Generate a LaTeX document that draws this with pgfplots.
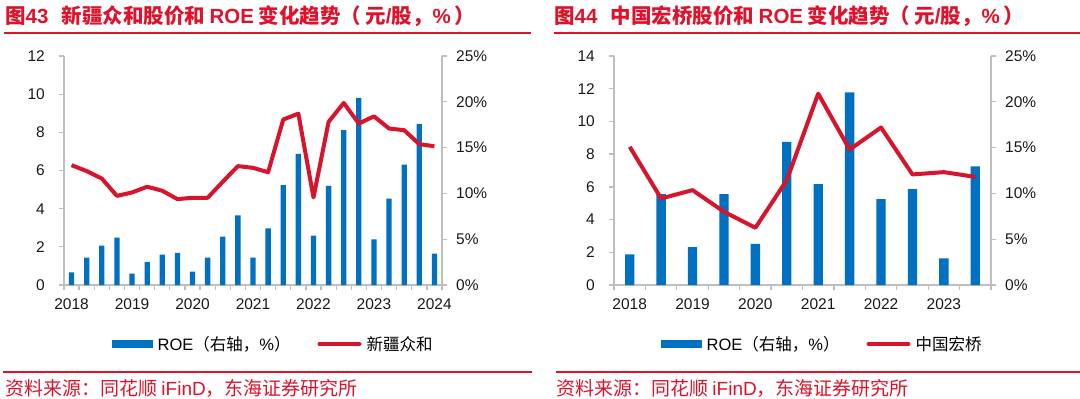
\documentclass[border=0pt]{standalone}
\usepackage{pgfplots}
\pgfplotsset{compat=1.18}
\usepackage{fontspec}
\setmainfont{Liberation Sans}
\newfontfamily\cjk{Noto Sans CJK SC}
\definecolor{roeblue}{HTML}{0070C0}
\definecolor{linered}{HTML}{D7142C}
\definecolor{hdrred}{HTML}{E0122B}
\definecolor{axgray}{HTML}{BFBFBF}
\pgfplotsset{
  basestyle/.style={
    scale only axis,
    width=378pt, height=229pt,
    axis line style={-, axgray, line width=1.3pt},
    tick style={axgray, line width=1.3pt},
    tick align=outside,
    major tick length=5pt,
    ymin=0,
    /pgf/number format/assume math mode=true,
    tick label style={font=\fontsize{15.5}{16}\selectfont, text=black!90},
    clip=false,
  },
  legstyle/.style={
    legend style={draw=none, fill=none, legend columns=2,
      font=\fontsize{16.5}{17}\selectfont, inner sep=0pt,
      nodes={inner sep=5pt},
      /tikz/every even column/.append style={column sep=22pt}},
  },
}
\begin{document}
\begin{tikzpicture}
\useasboundingbox (0pt,0pt) rectangle (1080pt,-399pt);
% ---------- Left panel ----------
\node[anchor=west, text=hdrred, font=\fontsize{20.5}{21}\selectfont\bfseries, inner sep=0pt] at (5pt,-16pt)
  {\cjk 图{\rmfamily 43}\hspace{13pt}新疆众和股价和 {\rmfamily ROE} 变化趋势（\hspace{4pt}元{\rmfamily /}股，{\rmfamily \%}\hspace{4pt}）};
\draw[hdrred, line width=2pt] (4pt,-33pt) -- (531pt,-33pt);
\draw[hdrred, line width=1.6pt] (3pt,-372pt) -- (532pt,-372pt);
\node[anchor=west, text=hdrred, font=\fontsize{19}{19}\selectfont, inner sep=0pt] at (5pt,-388pt)
  {\cjk 资料来源：同花顺 {\rmfamily iFinD}，东海证券研究所};

\begin{axis}[basestyle, at={(64pt,-285pt)}, anchor=south west,
  xmin=-0.5, xmax=24.5, ymax=25,
  axis x line*=bottom, axis y line*=right,
  xtick={-0.5,0.5,...,24.5}, xticklabels={},
  extra x ticks={0,4,8,12,16,20,24},
  extra x tick labels={2018,2019,2020,2021,2022,2023,2024},
  extra x tick style={major tick length=0pt},
  ytick={0,5,10,15,20,25},
  yticklabel={\pgfmathprintnumber{\tick}\%},
  yticklabel style={anchor=west, inner sep=0pt, xshift=9pt},
  xticklabel style={anchor=north, inner sep=0pt, yshift=-13pt},
]
\addplot[ybar, bar width=5.3pt, fill=roeblue, draw=none] coordinates {
(0,1.38) (1,2.98) (2,4.29) (3,5.17) (4,1.23) (5,2.50) (6,3.33) (7,3.52)
(8,1.46) (9,2.98) (10,5.27) (11,7.60) (12,2.98) (13,6.19) (14,10.90) (15,14.31)
(16,5.38) (17,10.83) (18,16.90) (19,20.42) (20,4.98) (21,9.42) (22,13.15) (23,17.58) (24,3.42)};
\end{axis}

\begin{axis}[basestyle, legstyle, at={(64pt,-285pt)}, anchor=south west,
  xmin=-0.5, xmax=24.5, ymax=12,
  axis x line=none, axis y line*=left,
  ytick={0,2,4,6,8,10,12},
  yticklabel style={anchor=east, inner sep=0pt, xshift=-14pt},
  legend style={at={(0.127,-0.2576)}, anchor=west},
]
\addlegendimage{legend image code/.code={\fill[roeblue] (0pt,-3.3pt) rectangle (40pt,3.3pt);}}
\addlegendentry{{\rmfamily ROE}{\cjk （右轴，}{\rmfamily \%}{\cjk ）}}
\addplot[linered, line width=4pt, line join=round,
  legend image code/.code={\draw[linered, line width=4pt, line cap=round] (2pt,0pt) -- (42pt,0pt);}] coordinates {
(0,6.28) (1,5.97) (2,5.58) (3,4.67) (4,4.85) (5,5.15) (6,4.94) (7,4.50)
(8,4.57) (9,4.57) (10,5.41) (11,6.23) (12,6.14) (13,5.91) (14,8.67) (15,8.98)
(16,4.59) (17,8.55) (18,9.54) (19,8.46) (20,8.84) (21,8.20) (22,8.11) (23,7.38) (24,7.27)};
\addlegendentry{{\cjk 新疆众和}}
\end{axis}

% ---------- Right panel ----------
\node[anchor=west, text=hdrred, font=\fontsize{20.5}{21}\selectfont\bfseries, inner sep=0pt] at (554pt,-16pt)
  {\cjk 图{\rmfamily 44}\hspace{13pt}中国宏桥股价和 {\rmfamily ROE} 变化趋势（\hspace{4pt}元{\rmfamily /}股，{\rmfamily \%}\hspace{4pt}）};
\draw[hdrred, line width=2pt] (554pt,-33pt) -- (1080pt,-33pt);
\draw[hdrred, line width=1.6pt] (556pt,-372pt) -- (1080pt,-372pt);
\node[anchor=west, text=hdrred, font=\fontsize{19}{19}\selectfont, inner sep=0pt] at (556pt,-388pt)
  {\cjk 资料来源：同花顺 {\rmfamily iFinD}，东海证券研究所};

\begin{axis}[basestyle, width=377pt, at={(614pt,-285pt)}, anchor=south west,
  xmin=-0.5, xmax=11.5, ymax=25,
  axis x line*=bottom, axis y line*=right,
  xtick={-0.5,0.5,...,11.5}, xticklabels={},
  extra x ticks={0,2,4,6,8,10},
  extra x tick labels={2018,2019,2020,2021,2022,2023},
  extra x tick style={major tick length=0pt},
  ytick={0,5,10,15,20,25},
  yticklabel={\pgfmathprintnumber{\tick}\%},
  yticklabel style={anchor=west, inner sep=0pt, xshift=9pt},
  xticklabel style={anchor=north, inner sep=0pt, yshift=-13pt},
]
\addplot[ybar, bar width=9.3pt, fill=roeblue, draw=none] coordinates {
(0,3.34) (1,9.93) (2,4.14) (3,9.93) (4,4.50) (5,15.63) (6,11.02) (7,21.04)
(8,9.38) (9,10.46) (10,2.91) (11,12.96)};
\end{axis}

\begin{axis}[basestyle, legstyle, width=377pt, at={(614pt,-285pt)}, anchor=south west,
  xmin=-0.5, xmax=11.5, ymax=14,
  axis x line=none, axis y line*=left,
  ytick={0,2,4,6,8,10,12,14},
  yticklabel style={anchor=east, inner sep=0pt, xshift=-14pt},
  legend style={at={(0.1247,-0.2576)}, anchor=west},
]
\addlegendimage{legend image code/.code={\fill[roeblue] (0pt,-3.3pt) rectangle (40pt,3.3pt);}}
\addlegendentry{{\rmfamily ROE}{\cjk （右轴，}{\rmfamily \%}{\cjk ）}}
\addplot[linered, line width=4pt, line join=round,
  legend image code/.code={\draw[linered, line width=4pt, line cap=round] (2pt,0pt) -- (42pt,0pt);}] coordinates {
(0,8.45) (1,5.29) (2,5.80) (3,4.48) (4,3.50) (5,6.41) (6,11.70) (7,8.28)
(8,9.63) (9,6.76) (10,6.90) (11,6.61)};
\addlegendentry{{\cjk 中国宏桥}}
\end{axis}
\end{tikzpicture}
\end{document}
